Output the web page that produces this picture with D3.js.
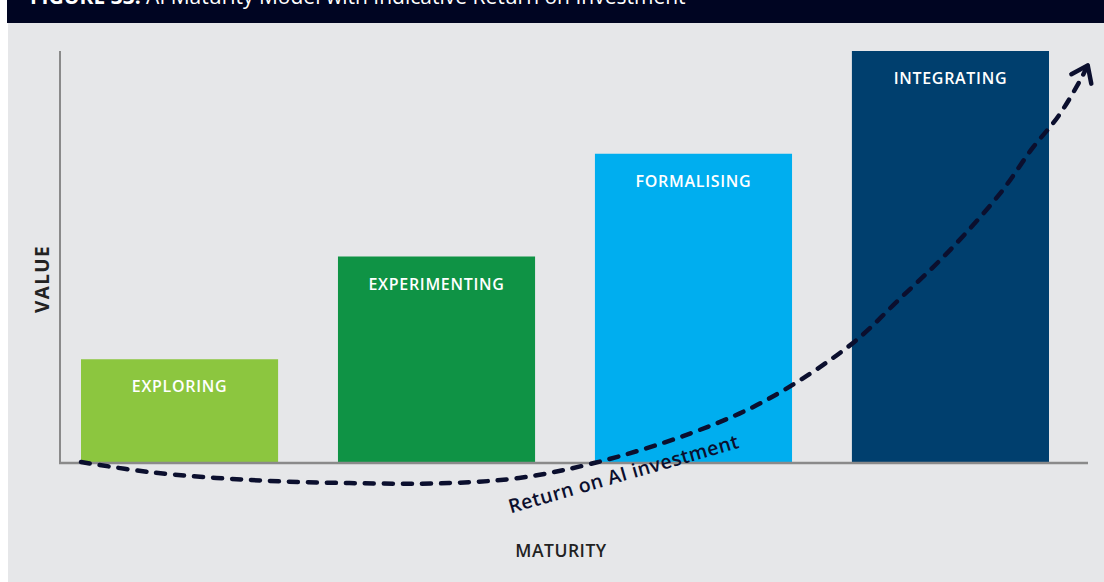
<!DOCTYPE html>
<html lang="en">
<head>
    <meta charset="UTF-8">
    <script src="https://cdn.jsdelivr.net/npm/d3@7"></script>
    <title>AI Maturity Model</title>
    <style>
        body { margin: 0; background: #fff; }
        svg { display: block; font-family: 'Open Sans', Lato, sans-serif; }
    </style>
</head>
<body>
<div class="fig"></div>
<script>
    // maturity stages and their (indicative) value
    const stages = ["EXPLORING", "EXPERIMENTING", "FORMALISING", "INTEGRATING"];
    const stageValues = [1, 2, 3, 4];
    const stageColors = ["#8cc63f", "#0f9345", "#00aeef", "#003f6e"];

    // return on AI investment curve: maturity position (0 = start of first bar, 4 = end of last bar) and return
    const roiMaturity = [0, 0.29, 0.70, 1.11, 1.52, 1.81, 2.12, 2.52, 2.83, 3.18, 3.38, 3.59, 3.80, 3.93, 4.04, 4.13, 4.16];
    const roiReturn   = [0, -0.10, -0.175, -0.205, -0.205, -0.155, -0.01, 0.28, 0.60, 1.14, 1.58, 2.06, 2.62, 3.05, 3.37, 3.72, 3.86];

    const titleText = "FIGURE 33: AI Maturity Model with Indicative Return on Investment";
    const xLabel = "MATURITY";
    const yLabel = "VALUE";
    const curveLabel = "Return on AI investment";

    const width = 1104, height = 582;
    const svg = d3.select(".fig").append("svg")
        .attr("width", width)
        .attr("height", height);

    // panel + banner (the figure title sits mostly above the crop, as in the source)
    svg.append("rect").attr("x", 8).attr("y", 23).attr("width", width - 8).attr("height", height - 23).attr("fill", "#e6e7e9");
    svg.append("rect").attr("x", 7).attr("y", 0).attr("width", width - 7).attr("height", 23).attr("fill", "#000522");
    const title = svg.append("text")
        .attr("x", 30).attr("y", 4)
        .attr("fill", "#fff")
        .attr("font-size", 21);
    title.append("tspan").attr("font-weight", 700).text(titleText.split(" ").slice(0, 2).join(" ") + " ");
    title.append("tspan").text(titleText.split(" ").slice(2).join(" "));

    const x = d3.scaleBand()
        .domain(stages)
        .range([81, 1049])
        .paddingInner(0.233)
        .paddingOuter(0);
    const y = d3.scaleLinear().domain([0, 4]).range([462, 51]);
    const xm = d3.scaleLinear().domain([0, 4]).range([81, 1049]);

    const bars = stages.map((s, i) => ({ stage: s, value: stageValues[i], color: stageColors[i] }));

    svg.selectAll("rect.bar")
        .data(bars)
        .enter()
        .append("rect")
        .attr("class", "bar")
        .attr("x", d => x(d.stage))
        .attr("y", d => y(d.value))
        .attr("width", x.bandwidth())
        .attr("height", d => y(0) - y(d.value))
        .attr("fill", d => d.color);

    svg.selectAll("text.stage")
        .data(bars)
        .enter()
        .append("text")
        .attr("class", "stage")
        .attr("x", d => x(d.stage) + x.bandwidth() / 2)
        .attr("y", d => y(d.value) + 33)
        .attr("text-anchor", "middle")
        .attr("fill", "#fff")
        .attr("font-size", 16)
        .attr("font-weight", 600)
        .attr("letter-spacing", 0.7)
        .text(d => d.stage);

    // axes (plain lines, no ticks)
    svg.append("line")
        .attr("x1", 60).attr("x2", 60).attr("y1", 51).attr("y2", y(0) + 1)
        .attr("stroke", "#8a8a8a").attr("stroke-width", 2);
    svg.append("line")
        .attr("x1", 59).attr("x2", 1088).attr("y1", y(0) + 1).attr("y2", y(0) + 1)
        .attr("stroke", "#8a8a8a").attr("stroke-width", 2.5);

    svg.append("text")
        .attr("transform", `translate(49,${279}) rotate(-90)`)
        .attr("text-anchor", "middle")
        .attr("fill", "#222")
        .attr("font-size", 19)
        .attr("font-weight", 700)
        .attr("letter-spacing", 1.4)
        .text(yLabel);
    svg.append("text")
        .attr("x", 561).attr("y", 557)
        .attr("text-anchor", "middle")
        .attr("fill", "#222")
        .attr("font-size", 17.5)
        .attr("font-weight", 600)
        .attr("letter-spacing", 0.5)
        .text(xLabel);

    // return curve
    const roi = roiMaturity.map((m, i) => [xm(m), y(roiReturn[i])]);
    const defs = svg.append("defs");
    defs.append("marker")
        .attr("id", "arrow")
        .attr("markerUnits", "userSpaceOnUse")
        .attr("viewBox", "-20 -14 24 28")
        .attr("refX", 0).attr("refY", 0)
        .attr("markerWidth", 24).attr("markerHeight", 28)
        .attr("orient", "auto")
        .append("path")
        .attr("d", "M-15,-11 L0,0 L-15,11")
        .attr("fill", "none")
        .attr("stroke", "#0b0f2e")
        .attr("stroke-width", 4.5)
        .attr("stroke-linecap", "round")
        .attr("stroke-linejoin", "round");

    svg.append("path")
        .datum(roi)
        .attr("d", d3.line().curve(d3.curveCatmullRom))
        .attr("fill", "none")
        .attr("stroke", "#0b0f2e")
        .attr("stroke-width", 4.5)
        .attr("stroke-linecap", "round")
        .attr("stroke-dasharray", "9 10")
        .attr("marker-end", "url(#arrow)");

    svg.append("text")
        .attr("transform", `translate(${xm(2.25)},${y(-0.18)}) rotate(-16)`)
        .attr("text-anchor", "middle")
        .attr("fill", "#0b0f2e")
        .attr("font-size", 19.5)
        .attr("font-weight", 600)
        .attr("letter-spacing", 0.4)
        .text(curveLabel);
</script>
</body>
</html>
